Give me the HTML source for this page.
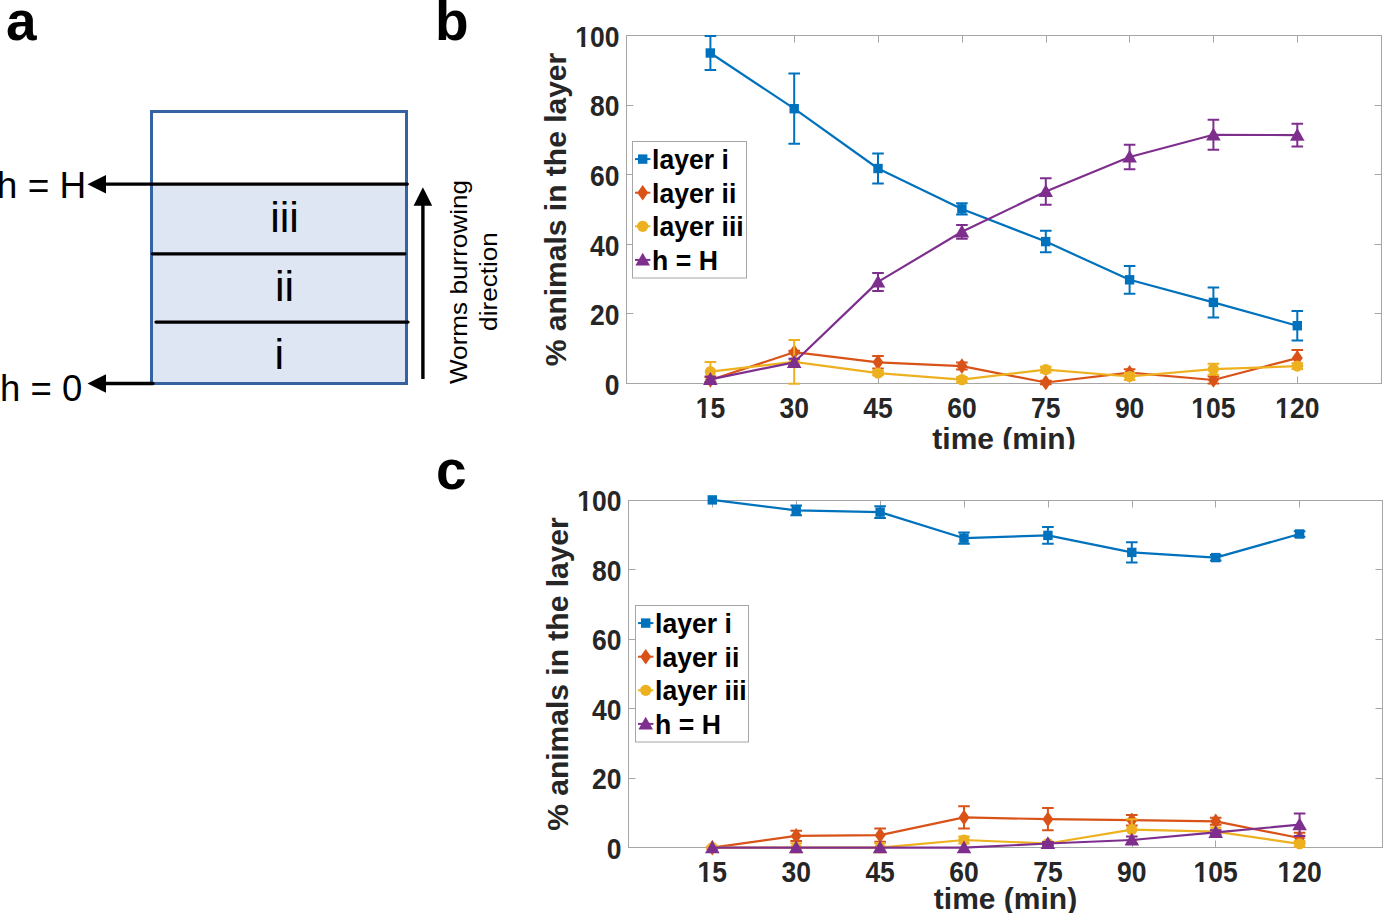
<!DOCTYPE html><html><head><meta charset="utf-8"><style>
html,body{margin:0;padding:0;background:#fff;width:1383px;height:913px;overflow:hidden}
svg{display:block;font-family:"Liberation Sans",sans-serif}
.tk{font-size:26.5px;font-weight:bold;fill:#262626}
.lab{font-size:30px;font-weight:bold;fill:#262626}
.lg{font-size:26.6px;font-weight:bold;fill:#000}
.pl{font-size:55px;font-weight:bold;fill:#000}
.dg{font-family:"Liberation Sans",sans-serif;fill:#000}
</style></head><body>
<svg width="1383" height="913" viewBox="0 0 1383 913">
<defs><clipPath id="clipb"><rect x="0" y="0" width="1383" height="449.2"/></clipPath></defs>
<text x="6" y="40" class="pl">a</text>
<text x="435" y="39.8" class="pl">b</text>
<text x="436" y="489" class="pl">c</text>
<rect x="152" y="185.5" width="254" height="197" fill="#DFE6F3"/>
<rect x="151.5" y="111.5" width="255" height="272" fill="none" stroke="#3562A0" stroke-width="3"/>
<path d="M104 184.1H407.3M152.5 253.8H404.8M156 322.1H408M104 383.5H153" stroke="#000" stroke-width="3.3" stroke-linecap="round" fill="none"/>
<path d="M87.5 184.2L106 175V193.4Z M87.5 383.5L106 374.3V392.7Z" fill="#000"/>
<path d="M422.9 379V200" stroke="#000" stroke-width="3.4" fill="none"/>
<path d="M422.9 187.3L432.2 205.8H413.6Z" fill="#000"/>
<text x="86.3" y="198.4" text-anchor="end" class="dg" style="font-size:37px">h = H</text>
<text x="82.3" y="401.1" text-anchor="end" class="dg" style="font-size:36.5px">h = 0</text>
<text x="284.5" y="232.4" text-anchor="middle" class="dg" style="font-size:43px">iii</text>
<text x="284.5" y="301" text-anchor="middle" class="dg" style="font-size:43px">ii</text>
<text x="279.3" y="368.5" text-anchor="middle" class="dg" style="font-size:43px">i</text>
<text transform="translate(466.8,282) rotate(-90) scale(1.066,1)" text-anchor="middle" class="dg" style="font-size:24.5px">Worms burrowing</text>
<text transform="translate(497.2,281.5) rotate(-90) scale(1.067,1)" text-anchor="middle" class="dg" style="font-size:24.5px">direction</text>
<rect x="626.5" y="35.5" width="755.0" height="348.0" fill="none" stroke="#a6a6a6" stroke-width="1"/>
<path d="M710.5 383.5v-7M710.5 35.5v7M794.5 383.5v-7M794.5 35.5v7M878.5 383.5v-7M878.5 35.5v7M962.5 383.5v-7M962.5 35.5v7M1046.5 383.5v-7M1046.5 35.5v7M1129.5 383.5v-7M1129.5 35.5v7M1213.5 383.5v-7M1213.5 35.5v7M1297.5 383.5v-7M1297.5 35.5v7M626.5 313.5h7M1381.5 313.5h-7M626.5 244.5h7M1381.5 244.5h-7M626.5 174.5h7M1381.5 174.5h-7M626.5 105.5h7M1381.5 105.5h-7" stroke="#a6a6a6" stroke-width="1" fill="none"/>
<g transform="translate(619.5,394.7) scale(1,1.085)"><text text-anchor="end" class="tk">0</text></g>
<g transform="translate(619.5,325.1) scale(1,1.085)"><text text-anchor="end" class="tk">20</text></g>
<g transform="translate(619.5,255.5) scale(1,1.085)"><text text-anchor="end" class="tk">40</text></g>
<g transform="translate(619.5,186.0) scale(1,1.085)"><text text-anchor="end" class="tk">60</text></g>
<g transform="translate(619.5,116.4) scale(1,1.085)"><text text-anchor="end" class="tk">80</text></g>
<g transform="translate(619.5,46.8) scale(1,1.085)"><text text-anchor="end" class="tk">100</text><rect x="-44.99" y="-3.23" width="6.81" height="5.43" fill="#fff"/><rect x="-34.24" y="-3.23" width="4.62" height="5.43" fill="#fff"/></g>
<g transform="translate(710.4,418.0) scale(1,1.085)"><text text-anchor="middle" class="tk">15</text><rect x="-15.51" y="-3.23" width="6.81" height="5.43" fill="#fff"/><rect x="-4.77" y="-3.23" width="4.62" height="5.43" fill="#fff"/></g>
<g transform="translate(794.2,418.0) scale(1,1.085)"><text text-anchor="middle" class="tk">30</text></g>
<g transform="translate(878.0,418.0) scale(1,1.085)"><text text-anchor="middle" class="tk">45</text></g>
<g transform="translate(961.9,418.0) scale(1,1.085)"><text text-anchor="middle" class="tk">60</text></g>
<g transform="translate(1045.8,418.0) scale(1,1.085)"><text text-anchor="middle" class="tk">75</text></g>
<g transform="translate(1129.6,418.0) scale(1,1.085)"><text text-anchor="middle" class="tk">90</text></g>
<g transform="translate(1213.4,418.0) scale(1,1.085)"><text text-anchor="middle" class="tk">105</text><rect x="-22.88" y="-3.23" width="6.81" height="5.43" fill="#fff"/><rect x="-12.14" y="-3.23" width="4.62" height="5.43" fill="#fff"/></g>
<g transform="translate(1297.3,418.0) scale(1,1.085)"><text text-anchor="middle" class="tk">120</text><rect x="-22.88" y="-3.23" width="6.81" height="5.43" fill="#fff"/><rect x="-12.14" y="-3.23" width="4.62" height="5.43" fill="#fff"/></g>
<text transform="translate(566,209.5) rotate(-90)" text-anchor="middle" class="lab">% animals in the layer</text>
<g clip-path="url(#clipb)"><text x="1004.0" y="448.5" text-anchor="middle" class="lab">time (min)</text></g>
<g><polyline points="710.4,53.0 794.2,108.7 878.0,168.5 961.9,208.9 1045.8,241.6 1129.6,279.8 1213.4,302.4 1297.3,325.7" fill="none" stroke="#0072BD" stroke-width="2.2" stroke-linejoin="round"/><path d="M710.4 35.9V70.0M704.6 35.9h11.6M704.6 70.0h11.6M794.2 73.5V143.8M788.4 73.5h11.6M788.4 143.8h11.6M878.0 153.5V183.5M872.2 153.5h11.6M872.2 183.5h11.6M961.9 203.3V214.4M956.1 203.3h11.6M956.1 214.4h11.6M1045.8 230.8V252.3M1040.0 230.8h11.6M1040.0 252.3h11.6M1129.6 265.9V293.7M1123.8 265.9h11.6M1123.8 293.7h11.6M1213.4 287.5V317.4M1207.6 287.5h11.6M1207.6 317.4h11.6M1297.3 311.1V340.4M1291.5 311.1h11.6M1291.5 340.4h11.6" stroke="#0072BD" stroke-width="2" fill="none"/><rect x="705.6" y="48.3" width="9.4" height="9.4" fill="#0072BD"/><rect x="789.5" y="104.0" width="9.4" height="9.4" fill="#0072BD"/><rect x="873.3" y="163.8" width="9.4" height="9.4" fill="#0072BD"/><rect x="957.2" y="204.2" width="9.4" height="9.4" fill="#0072BD"/><rect x="1041.0" y="236.9" width="9.4" height="9.4" fill="#0072BD"/><rect x="1124.9" y="275.1" width="9.4" height="9.4" fill="#0072BD"/><rect x="1208.7" y="297.7" width="9.4" height="9.4" fill="#0072BD"/><rect x="1292.6" y="321.0" width="9.4" height="9.4" fill="#0072BD"/></g>
<g><polyline points="710.4,380.0 794.2,352.2 878.0,362.3 961.9,366.1 1045.8,382.5 1129.6,372.7 1213.4,380.0 1297.3,358.1" fill="none" stroke="#D95319" stroke-width="2.2" stroke-linejoin="round"/><path d="M710.4 377.2V382.8M704.6 377.2h11.6M704.6 382.8h11.6M794.2 350.8V353.6M788.4 350.8h11.6M788.4 353.6h11.6M878.0 356.0V368.5M872.2 356.0h11.6M872.2 368.5h11.6M961.9 362.6V369.6M956.1 362.6h11.6M956.1 369.6h11.6M1045.8 380.7V384.2M1040.0 380.7h11.6M1040.0 384.2h11.6M1129.6 369.2V376.2M1123.8 369.2h11.6M1123.8 376.2h11.6M1213.4 376.5V383.5M1207.6 376.5h11.6M1207.6 383.5h11.6M1297.3 350.1V366.1M1291.5 350.1h11.6M1291.5 366.1h11.6" stroke="#D95319" stroke-width="2" fill="none"/><path d="M710.4 372.2L715.9 380.0L710.4 387.8L704.9 380.0Z" fill="#D95319"/><path d="M794.2 344.4L799.7 352.2L794.2 360.0L788.7 352.2Z" fill="#D95319"/><path d="M878.0 354.5L883.5 362.3L878.0 370.1L872.5 362.3Z" fill="#D95319"/><path d="M961.9 358.3L967.4 366.1L961.9 373.9L956.4 366.1Z" fill="#D95319"/><path d="M1045.8 374.7L1051.2 382.5L1045.8 390.3L1040.2 382.5Z" fill="#D95319"/><path d="M1129.6 364.9L1135.1 372.7L1129.6 380.5L1124.1 372.7Z" fill="#D95319"/><path d="M1213.4 372.2L1218.9 380.0L1213.4 387.8L1207.9 380.0Z" fill="#D95319"/><path d="M1297.3 350.3L1302.8 358.1L1297.3 365.9L1291.8 358.1Z" fill="#D95319"/></g>
<g><polyline points="710.4,371.7 794.2,361.9 878.0,373.1 961.9,379.7 1045.8,369.6 1129.6,376.5 1213.4,369.2 1297.3,366.1" fill="none" stroke="#EDB120" stroke-width="2.2" stroke-linejoin="round"/><path d="M710.4 361.9V381.4M704.6 361.9h11.6M704.6 381.4h11.6M794.2 340.0V383.8M788.4 340.0h11.6M788.4 383.8h11.6M878.0 371.0V375.2M872.2 371.0h11.6M872.2 375.2h11.6M961.9 376.9V382.5M956.1 376.9h11.6M956.1 382.5h11.6M1045.8 366.8V372.4M1040.0 366.8h11.6M1040.0 372.4h11.6M1129.6 373.1V380.0M1123.8 373.1h11.6M1123.8 380.0h11.6M1213.4 363.7V374.8M1207.6 363.7h11.6M1207.6 374.8h11.6M1297.3 363.3V368.9M1291.5 363.3h11.6M1291.5 368.9h11.6" stroke="#EDB120" stroke-width="2" fill="none"/><circle cx="710.4" cy="371.7" r="5.6" fill="#EDB120"/><circle cx="794.2" cy="361.9" r="5.6" fill="#EDB120"/><circle cx="878.0" cy="373.1" r="5.6" fill="#EDB120"/><circle cx="961.9" cy="379.7" r="5.6" fill="#EDB120"/><circle cx="1045.8" cy="369.6" r="5.6" fill="#EDB120"/><circle cx="1129.6" cy="376.5" r="5.6" fill="#EDB120"/><circle cx="1213.4" cy="369.2" r="5.6" fill="#EDB120"/><circle cx="1297.3" cy="366.1" r="5.6" fill="#EDB120"/></g>
<g><polyline points="710.4,379.3 794.2,362.3 878.0,281.9 961.9,231.8 1045.8,191.5 1129.6,157.0 1213.4,134.8 1297.3,135.1" fill="none" stroke="#7E2F8E" stroke-width="2.2" stroke-linejoin="round"/><path d="M710.4 376.5V382.1M704.6 376.5h11.6M704.6 382.1h11.6M794.2 358.8V365.8M788.4 358.8h11.6M788.4 365.8h11.6M878.0 272.9V291.0M872.2 272.9h11.6M872.2 291.0h11.6M961.9 224.9V238.8M956.1 224.9h11.6M956.1 238.8h11.6M1045.8 178.2V204.7M1040.0 178.2h11.6M1040.0 204.7h11.6M1129.6 144.8V169.2M1123.8 144.8h11.6M1123.8 169.2h11.6M1213.4 119.8V149.7M1207.6 119.8h11.6M1207.6 149.7h11.6M1297.3 123.8V146.4M1291.5 123.8h11.6M1291.5 146.4h11.6" stroke="#7E2F8E" stroke-width="2" fill="none"/><path d="M710.4 372.1L717.6 384.9L703.1 384.9Z" fill="#7E2F8E"/><path d="M794.2 355.1L801.5 367.9L786.9 367.9Z" fill="#7E2F8E"/><path d="M878.0 274.7L885.3 287.5L870.8 287.5Z" fill="#7E2F8E"/><path d="M961.9 224.6L969.2 237.4L954.6 237.4Z" fill="#7E2F8E"/><path d="M1045.8 184.3L1053.0 197.1L1038.5 197.1Z" fill="#7E2F8E"/><path d="M1129.6 149.8L1136.9 162.6L1122.3 162.6Z" fill="#7E2F8E"/><path d="M1213.4 127.6L1220.7 140.4L1206.1 140.4Z" fill="#7E2F8E"/><path d="M1297.3 127.9L1304.6 140.7L1290.0 140.7Z" fill="#7E2F8E"/></g>
<rect x="632.5" y="141.5" width="114" height="136.5" fill="#fff" stroke="#a6a6a6" stroke-width="1"/>
<path d="M635.0 159.1h15.4" stroke="#0072BD" stroke-width="2"/>
<rect x="638.0" y="154.4" width="9.4" height="9.4" fill="#0072BD"/>
<text transform="translate(652.1,169.1) scale(1,1.025)" class="lg">layer i</text>
<path d="M635.0 192.7h15.4" stroke="#D95319" stroke-width="2"/>
<path d="M642.7 184.9L648.2 192.7L642.7 200.5L637.2 192.7Z" fill="#D95319"/>
<text transform="translate(652.1,202.7) scale(1,1.025)" class="lg">layer ii</text>
<path d="M635.0 226.3h15.4" stroke="#EDB120" stroke-width="2"/>
<circle cx="642.7" cy="226.3" r="5.6" fill="#EDB120"/>
<text transform="translate(652.1,236.3) scale(1,1.025)" class="lg">layer iii</text>
<path d="M635.0 259.9h15.4" stroke="#7E2F8E" stroke-width="2"/>
<path d="M642.7 252.7L650.0 265.5L635.4 265.5Z" fill="#7E2F8E"/>
<text transform="translate(652.1,269.9) scale(1,1.025)" class="lg">h = H</text>
<rect x="628.5" y="500.5" width="754.0" height="347.0" fill="none" stroke="#a6a6a6" stroke-width="1"/>
<path d="M712.5 847.5v-7M712.5 500.5v7M796.5 847.5v-7M796.5 500.5v7M880.5 847.5v-7M880.5 500.5v7M964.5 847.5v-7M964.5 500.5v7M1048.5 847.5v-7M1048.5 500.5v7M1132.5 847.5v-7M1132.5 500.5v7M1215.5 847.5v-7M1215.5 500.5v7M1299.5 847.5v-7M1299.5 500.5v7M628.5 778.5h7M1382.5 778.5h-7M628.5 708.5h7M1382.5 708.5h-7M628.5 639.5h7M1382.5 639.5h-7M628.5 569.5h7M1382.5 569.5h-7" stroke="#a6a6a6" stroke-width="1" fill="none"/>
<g transform="translate(621.5,858.9) scale(1,1.085)"><text text-anchor="end" class="tk">0</text></g>
<g transform="translate(621.5,789.3) scale(1,1.085)"><text text-anchor="end" class="tk">20</text></g>
<g transform="translate(621.5,719.8) scale(1,1.085)"><text text-anchor="end" class="tk">40</text></g>
<g transform="translate(621.5,650.2) scale(1,1.085)"><text text-anchor="end" class="tk">60</text></g>
<g transform="translate(621.5,580.7) scale(1,1.085)"><text text-anchor="end" class="tk">80</text></g>
<g transform="translate(621.5,511.1) scale(1,1.085)"><text text-anchor="end" class="tk">100</text><rect x="-44.99" y="-3.23" width="6.81" height="5.43" fill="#fff"/><rect x="-34.24" y="-3.23" width="4.62" height="5.43" fill="#fff"/></g>
<g transform="translate(712.3,882.0) scale(1,1.085)"><text text-anchor="middle" class="tk">15</text><rect x="-15.51" y="-3.23" width="6.81" height="5.43" fill="#fff"/><rect x="-4.77" y="-3.23" width="4.62" height="5.43" fill="#fff"/></g>
<g transform="translate(796.2,882.0) scale(1,1.085)"><text text-anchor="middle" class="tk">30</text></g>
<g transform="translate(880.1,882.0) scale(1,1.085)"><text text-anchor="middle" class="tk">45</text></g>
<g transform="translate(964.0,882.0) scale(1,1.085)"><text text-anchor="middle" class="tk">60</text></g>
<g transform="translate(1047.9,882.0) scale(1,1.085)"><text text-anchor="middle" class="tk">75</text></g>
<g transform="translate(1131.8,882.0) scale(1,1.085)"><text text-anchor="middle" class="tk">90</text></g>
<g transform="translate(1215.7,882.0) scale(1,1.085)"><text text-anchor="middle" class="tk">105</text><rect x="-22.88" y="-3.23" width="6.81" height="5.43" fill="#fff"/><rect x="-12.14" y="-3.23" width="4.62" height="5.43" fill="#fff"/></g>
<g transform="translate(1299.6,882.0) scale(1,1.085)"><text text-anchor="middle" class="tk">120</text><rect x="-22.88" y="-3.23" width="6.81" height="5.43" fill="#fff"/><rect x="-12.14" y="-3.23" width="4.62" height="5.43" fill="#fff"/></g>
<text transform="translate(568,674.0) rotate(-90)" text-anchor="middle" class="lab">% animals in the layer</text>
<text x="1005.5" y="908.9" text-anchor="middle" class="lab">time (min)</text>
<g><polyline points="712.3,499.9 796.2,510.3 880.1,512.1 964.0,538.2 1047.9,535.4 1131.8,552.4 1215.7,557.6 1299.6,534.0" fill="none" stroke="#0072BD" stroke-width="2.2" stroke-linejoin="round"/><path d="M796.2 505.5V515.2M790.4 505.5h11.6M790.4 515.2h11.6M880.1 506.2V518.0M874.3 506.2h11.6M874.3 518.0h11.6M964.0 532.6V543.7M958.2 532.6h11.6M958.2 543.7h11.6M1047.9 527.0V543.7M1042.1 527.0h11.6M1042.1 543.7h11.6M1131.8 542.3V562.5M1126.0 542.3h11.6M1126.0 562.5h11.6M1215.7 554.9V560.4M1209.9 554.9h11.6M1209.9 560.4h11.6M1299.6 531.2V536.8M1293.8 531.2h11.6M1293.8 536.8h11.6" stroke="#0072BD" stroke-width="2" fill="none"/><rect x="707.6" y="495.2" width="9.4" height="9.4" fill="#0072BD"/><rect x="791.5" y="505.6" width="9.4" height="9.4" fill="#0072BD"/><rect x="875.4" y="507.4" width="9.4" height="9.4" fill="#0072BD"/><rect x="959.3" y="533.5" width="9.4" height="9.4" fill="#0072BD"/><rect x="1043.2" y="530.7" width="9.4" height="9.4" fill="#0072BD"/><rect x="1127.1" y="547.7" width="9.4" height="9.4" fill="#0072BD"/><rect x="1211.0" y="552.9" width="9.4" height="9.4" fill="#0072BD"/><rect x="1294.9" y="529.3" width="9.4" height="9.4" fill="#0072BD"/></g>
<g><polyline points="712.3,847.7 796.2,835.9 880.1,835.2 964.0,817.4 1047.9,819.2 1131.8,820.2 1215.7,821.3 1299.6,838.0" fill="none" stroke="#D95319" stroke-width="2.2" stroke-linejoin="round"/><path d="M712.3 846.7V848.7M706.5 846.7h11.6M706.5 848.7h11.6M796.2 830.7V841.1M790.4 830.7h11.6M790.4 841.1h11.6M880.1 828.6V841.8M874.3 828.6h11.6M874.3 841.8h11.6M964.0 806.3V828.6M958.2 806.3h11.6M958.2 828.6h11.6M1047.9 808.1V830.3M1042.1 808.1h11.6M1042.1 830.3h11.6M1131.8 815.0V825.4M1126.0 815.0h11.6M1126.0 825.4h11.6M1215.7 817.8V824.7M1209.9 817.8h11.6M1209.9 824.7h11.6M1299.6 832.7V843.2M1293.8 832.7h11.6M1293.8 843.2h11.6" stroke="#D95319" stroke-width="2" fill="none"/><path d="M712.3 839.9L717.8 847.7L712.3 855.5L706.8 847.7Z" fill="#D95319"/><path d="M796.2 828.1L801.7 835.9L796.2 843.7L790.7 835.9Z" fill="#D95319"/><path d="M880.1 827.4L885.6 835.2L880.1 843.0L874.6 835.2Z" fill="#D95319"/><path d="M964.0 809.6L969.5 817.4L964.0 825.2L958.5 817.4Z" fill="#D95319"/><path d="M1047.9 811.4L1053.4 819.2L1047.9 827.0L1042.4 819.2Z" fill="#D95319"/><path d="M1131.8 812.4L1137.3 820.2L1131.8 828.0L1126.3 820.2Z" fill="#D95319"/><path d="M1215.7 813.5L1221.2 821.3L1215.7 829.1L1210.2 821.3Z" fill="#D95319"/><path d="M1299.6 830.2L1305.1 838.0L1299.6 845.8L1294.1 838.0Z" fill="#D95319"/></g>
<g><polyline points="712.3,847.7 796.2,847.7 880.1,847.7 964.0,840.0 1047.9,843.5 1131.8,829.6 1215.7,831.7 1299.6,843.9" fill="none" stroke="#EDB120" stroke-width="2.2" stroke-linejoin="round"/><path d="M712.3 846.7V848.7M706.5 846.7h11.6M706.5 848.7h11.6M796.2 843.2V852.2M790.4 843.2h11.6M790.4 852.2h11.6M880.1 843.2V852.2M874.3 843.2h11.6M874.3 852.2h11.6M964.0 836.6V843.5M958.2 836.6h11.6M958.2 843.5h11.6M1047.9 841.8V845.3M1042.1 841.8h11.6M1042.1 845.3h11.6M1131.8 819.2V840.0M1126.0 819.2h11.6M1126.0 840.0h11.6M1215.7 827.5V835.9M1209.9 827.5h11.6M1209.9 835.9h11.6M1299.6 841.1V846.7M1293.8 841.1h11.6M1293.8 846.7h11.6" stroke="#EDB120" stroke-width="2" fill="none"/><circle cx="712.3" cy="847.7" r="5.6" fill="#EDB120"/><circle cx="796.2" cy="847.7" r="5.6" fill="#EDB120"/><circle cx="880.1" cy="847.7" r="5.6" fill="#EDB120"/><circle cx="964.0" cy="840.0" r="5.6" fill="#EDB120"/><circle cx="1047.9" cy="843.5" r="5.6" fill="#EDB120"/><circle cx="1131.8" cy="829.6" r="5.6" fill="#EDB120"/><circle cx="1215.7" cy="831.7" r="5.6" fill="#EDB120"/><circle cx="1299.6" cy="843.9" r="5.6" fill="#EDB120"/></g>
<g><polyline points="712.3,847.7 796.2,847.7 880.1,847.7 964.0,847.7 1047.9,843.5 1131.8,840.0 1215.7,832.4 1299.6,824.7" fill="none" stroke="#7E2F8E" stroke-width="2.2" stroke-linejoin="round"/><path d="M1047.9 842.1V844.9M1042.1 842.1h11.6M1042.1 844.9h11.6M1131.8 836.6V843.5M1126.0 836.6h11.6M1126.0 843.5h11.6M1215.7 830.3V834.5M1209.9 830.3h11.6M1209.9 834.5h11.6M1299.6 813.6V835.9M1293.8 813.6h11.6M1293.8 835.9h11.6" stroke="#7E2F8E" stroke-width="2" fill="none"/><path d="M712.3 840.5L719.6 853.3L705.0 853.3Z" fill="#7E2F8E"/><path d="M796.2 840.5L803.5 853.3L788.9 853.3Z" fill="#7E2F8E"/><path d="M880.1 840.5L887.4 853.3L872.8 853.3Z" fill="#7E2F8E"/><path d="M964.0 840.5L971.3 853.3L956.7 853.3Z" fill="#7E2F8E"/><path d="M1047.9 836.3L1055.2 849.1L1040.6 849.1Z" fill="#7E2F8E"/><path d="M1131.8 832.8L1139.1 845.6L1124.5 845.6Z" fill="#7E2F8E"/><path d="M1215.7 825.2L1223.0 838.0L1208.4 838.0Z" fill="#7E2F8E"/><path d="M1299.6 817.5L1306.9 830.3L1292.3 830.3Z" fill="#7E2F8E"/></g>
<rect x="635.5" y="605.5" width="113" height="136.5" fill="#fff" stroke="#a6a6a6" stroke-width="1"/>
<path d="M638.0 623.1h15.4" stroke="#0072BD" stroke-width="2"/>
<rect x="641.0" y="618.4" width="9.4" height="9.4" fill="#0072BD"/>
<text transform="translate(655.1,633.1) scale(1,1.025)" class="lg">layer i</text>
<path d="M638.0 656.7h15.4" stroke="#D95319" stroke-width="2"/>
<path d="M645.7 648.9L651.2 656.7L645.7 664.5L640.2 656.7Z" fill="#D95319"/>
<text transform="translate(655.1,666.7) scale(1,1.025)" class="lg">layer ii</text>
<path d="M638.0 690.3h15.4" stroke="#EDB120" stroke-width="2"/>
<circle cx="645.7" cy="690.3" r="5.6" fill="#EDB120"/>
<text transform="translate(655.1,700.3) scale(1,1.025)" class="lg">layer iii</text>
<path d="M638.0 723.9h15.4" stroke="#7E2F8E" stroke-width="2"/>
<path d="M645.7 716.7L653.0 729.5L638.4 729.5Z" fill="#7E2F8E"/>
<text transform="translate(655.1,733.9) scale(1,1.025)" class="lg">h = H</text>
</svg></body></html>
